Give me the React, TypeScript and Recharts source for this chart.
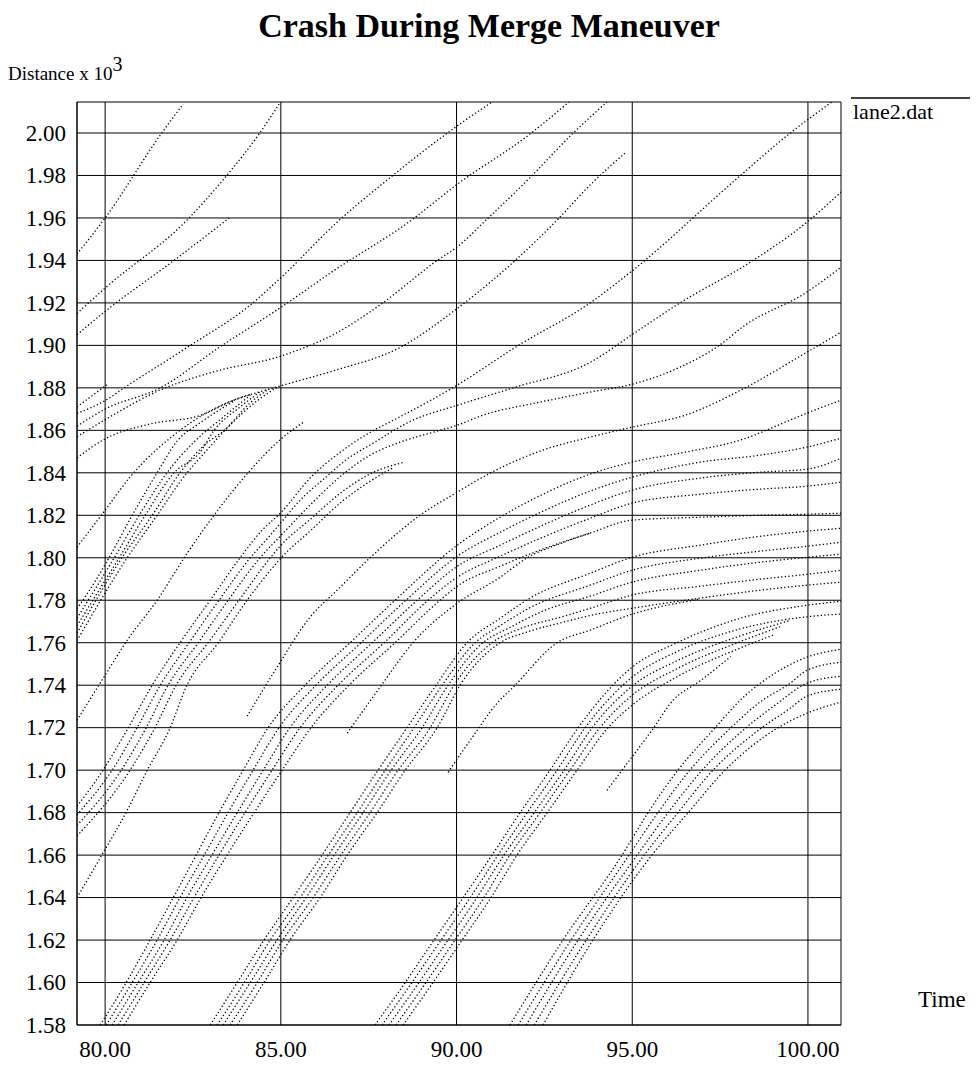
import React from 'react';
import { LineChart, Line, XAxis, YAxis, CartesianGrid } from 'recharts';

type Track = [number, number][];

// [time, distance x 10^3] pairs
const upperTracks: Track[] = [
  [[79.2, 1.943], [80.0, 1.96], [81.59, 1.9995], [82.22, 2.0136]],
  [[79.2, 1.915], [80.0, 1.927], [82.33, 1.959], [83.41, 1.979], [84.38, 1.9995], [84.95, 2.0136]],
  [[79.2, 1.905], [80.0, 1.916], [81.96, 1.94], [83.53, 1.96]],
  [[79.2, 1.871], [80.09, 1.882]],
  [[79.2, 1.868], [80.0, 1.874], [80.54, 1.88], [82.33, 1.899], [84.13, 1.919], [85.01, 1.932], [86.6, 1.958], [88.11, 1.979], [89.99, 2.003], [91.01, 2.0146]],
  [[79.2, 1.862], [80.0, 1.87], [81.57, 1.88], [83.24, 1.899], [85.01, 1.918], [86.4, 1.934], [88.76, 1.9595], [89.99, 1.9755], [92.09, 1.9995], [93.2, 2.0146]],
  [[79.2, 1.857], [80.0, 1.865], [81.57, 1.879], [83.19, 1.888], [85.01, 1.895], [86.6, 1.906], [87.82, 1.919], [89.45, 1.94], [89.99, 1.946], [90.87, 1.9595], [92.09, 1.979], [93.29, 1.9995], [94.28, 2.0146]],
  [[79.2, 1.847], [80.0, 1.856], [81.28, 1.863], [82.7, 1.867], [83.64, 1.874], [85.01, 1.881], [86.49, 1.888], [88.39, 1.899], [89.99, 1.917], [91.67, 1.94], [92.89, 1.9595], [93.8, 1.9755], [94.79, 1.9905]],
];

const platoonA: Track[] = [
  [[79.2, 1.776], [79.72, 1.789], [80.11, 1.8], [80.77, 1.82], [81.48, 1.84], [82.05, 1.855], [82.7, 1.8635], [83.64, 1.8735]],
  [[79.2, 1.7715], [80.26, 1.8], [80.97, 1.82], [81.76, 1.84], [82.56, 1.855], [83.27, 1.865], [84.13, 1.8765]],
  [[79.2, 1.768], [80.4, 1.8], [81.14, 1.82], [81.96, 1.84], [82.7, 1.8497], [83.1, 1.86], [83.84, 1.871], [84.4, 1.878]],
  [[79.2, 1.7645], [80.48, 1.8], [81.34, 1.82], [82.13, 1.84], [82.82, 1.853], [83.39, 1.86], [84.13, 1.873], [84.62, 1.879]],
  [[79.2, 1.761], [80.63, 1.8], [81.48, 1.82], [82.33, 1.84], [82.7, 1.847], [83.41, 1.86], [84.33, 1.874], [84.92, 1.8805]],
];

const platoonB: Track[] = [
  [[79.2, 1.683], [79.94, 1.7], [80.66, 1.72], [81.34, 1.74], [82.13, 1.76], [82.99, 1.78], [83.84, 1.8], [84.47, 1.813], [85.01, 1.8214], [85.83, 1.8375], [86.69, 1.8497], [87.54, 1.859], [88.31, 1.8657], [89.25, 1.874], [89.99, 1.881], [91.72, 1.8996], [93.8, 1.92], [94.99, 1.935], [98.01, 1.979], [99.46, 1.9995], [100.68, 2.0146]],
  [[79.2, 1.679], [80.2, 1.7], [80.91, 1.72], [81.57, 1.74], [82.39, 1.76], [83.24, 1.78], [84.13, 1.8], [84.7, 1.8106], [85.01, 1.8167], [85.55, 1.8271], [86.35, 1.8389], [86.77, 1.845], [87.63, 1.854], [88.76, 1.8648], [90.02, 1.8718], [91.61, 1.88], [93.8, 1.892], [94.99, 1.905], [96.3, 1.9194], [98.41, 1.9397], [99.97, 1.958], [100.94, 1.9722]],
  [[79.2, 1.674], [80.46, 1.7], [81.17, 1.72], [81.79, 1.74], [82.65, 1.76], [83.5, 1.78], [84.41, 1.8], [85.01, 1.8106], [85.83, 1.8248], [86.74, 1.8389], [87.54, 1.8483], [88.39, 1.8544], [89.33, 1.8591], [90.02, 1.8624], [90.75, 1.8671], [92.38, 1.8733], [93.8, 1.878], [94.99, 1.8817], [96.3, 1.8893], [97.44, 1.8996], [98.21, 1.9095], [99.97, 1.9251], [100.94, 1.9368]],
  [[79.2, 1.669], [80.71, 1.7], [81.42, 1.72], [82.02, 1.74], [82.93, 1.76], [83.81, 1.78], [84.7, 1.8], [85.01, 1.806], [85.83, 1.818], [86.74, 1.831], [87.54, 1.8395], [88.51, 1.845]],
  [[79.2, 1.64], [79.92, 1.6604], [80.63, 1.6811], [81.2, 1.7], [81.82, 1.7188], [82.33, 1.74], [83.22, 1.76], [84.04, 1.78], [84.7, 1.794], [85.01, 1.8], [85.83, 1.8125], [86.74, 1.8265], [87.54, 1.836], [88.2, 1.8425]],
];

const platoon1: Track[] = [
  [[79.86, 1.58], [80.6, 1.6], [81.28, 1.62], [81.94, 1.64], [82.59, 1.66], [83.24, 1.68], [83.93, 1.7], [84.64, 1.72], [85.69, 1.74], [86.97, 1.76], [88.25, 1.78], [90.02, 1.8059], [91.24, 1.8191], [92.52, 1.8304], [93.8, 1.8394], [94.99, 1.845], [96.5, 1.8497], [98.07, 1.8554], [99.49, 1.8648], [99.97, 1.8681], [100.94, 1.8742]],
  [[80.03, 1.58], [80.77, 1.6], [81.48, 1.62], [82.13, 1.64], [82.82, 1.66], [83.5, 1.68], [84.21, 1.7], [84.95, 1.72], [86.0, 1.74], [87.28, 1.76], [88.56, 1.78], [90.02, 1.8007], [91.24, 1.812], [92.52, 1.8224], [93.8, 1.8314], [94.99, 1.8379], [96.93, 1.845], [98.63, 1.8483], [99.97, 1.8521], [100.94, 1.8563]],
  [[80.2, 1.58], [80.94, 1.6], [81.68, 1.62], [82.33, 1.64], [83.04, 1.66], [83.76, 1.68], [84.5, 1.7], [85.26, 1.72], [86.32, 1.74], [87.6, 1.76], [88.88, 1.78], [90.02, 1.796], [91.24, 1.8059], [92.52, 1.8158], [93.8, 1.8248], [94.99, 1.8318], [96.93, 1.8375], [98.63, 1.8403], [99.97, 1.8417], [100.94, 1.8469]],
  [[80.37, 1.58], [81.11, 1.6], [81.85, 1.62], [82.53, 1.64], [83.24, 1.66], [83.98, 1.68], [84.75, 1.7], [85.55, 1.72], [86.63, 1.74], [87.94, 1.76], [89.19, 1.78], [90.02, 1.7908], [91.24, 1.8007], [92.52, 1.8101], [93.8, 1.8186], [94.99, 1.8257], [96.93, 1.8299], [98.63, 1.8323], [99.97, 1.8337], [100.94, 1.8356]],
  [[80.54, 1.58], [81.28, 1.6], [82.05, 1.62], [82.73, 1.64], [83.47, 1.66], [84.24, 1.68], [85.04, 1.7], [85.86, 1.72], [86.94, 1.74], [88.25, 1.76], [89.53, 1.78], [90.02, 1.7866], [91.24, 1.796], [92.52, 1.8045], [93.8, 1.8116], [94.99, 1.8177], [96.93, 1.8191], [98.63, 1.82], [99.97, 1.8205], [100.94, 1.821]],
];

const platoon2: Track[] = [
  [[82.99, 1.58], [83.76, 1.6], [84.52, 1.62], [85.35, 1.64], [86.17, 1.66], [86.97, 1.68], [87.77, 1.7], [88.59, 1.72], [89.42, 1.74], [90.3, 1.76], [91.24, 1.7715], [92.09, 1.781], [93.8, 1.7927], [94.99, 1.8002], [96.93, 1.8059], [98.63, 1.8101], [99.97, 1.8125], [100.94, 1.8139]],
  [[83.19, 1.58], [83.96, 1.6], [84.7, 1.62], [85.55, 1.64], [86.35, 1.66], [87.17, 1.68], [87.97, 1.7], [88.79, 1.72], [89.59, 1.74], [90.53, 1.76], [91.24, 1.768], [92.09, 1.7765], [93.8, 1.7871], [94.99, 1.7941], [96.93, 1.7998], [98.63, 1.8031], [99.97, 1.8054], [100.94, 1.8073]],
  [[83.36, 1.58], [84.13, 1.6], [84.89, 1.62], [85.72, 1.64], [86.52, 1.66], [87.34, 1.68], [88.14, 1.7], [89.02, 1.72], [89.76, 1.74], [90.75, 1.76], [91.5, 1.767], [92.52, 1.7753], [93.8, 1.7819], [94.99, 1.7885], [96.93, 1.7941], [98.63, 1.7979], [99.97, 1.8002], [100.94, 1.8017]],
  [[83.56, 1.58], [84.33, 1.6], [85.06, 1.62], [85.92, 1.64], [86.71, 1.66], [87.54, 1.68], [88.34, 1.7], [89.25, 1.72], [89.93, 1.74], [91.01, 1.76], [91.8, 1.7665], [93.0, 1.7722], [93.8, 1.7762], [94.99, 1.7824], [96.93, 1.7866], [98.63, 1.7899], [99.97, 1.7922], [100.94, 1.7941]],
  [[83.76, 1.58], [84.52, 1.6], [85.26, 1.62], [86.12, 1.64], [86.89, 1.66], [87.74, 1.68], [88.54, 1.7], [89.45, 1.72], [90.1, 1.74], [91.24, 1.76], [92.0, 1.765], [93.0, 1.7695], [94.0, 1.7735], [94.99, 1.7762], [96.93, 1.781], [98.63, 1.7847], [99.97, 1.7871], [100.94, 1.7885]],
];

const platoon3: Track[] = [
  [[87.68, 1.58], [88.54, 1.6], [89.36, 1.62], [90.19, 1.64], [91.01, 1.66], [91.81, 1.68], [92.66, 1.7], [93.46, 1.72], [94.99, 1.7484], [96.3, 1.7602], [98.07, 1.7715], [99.97, 1.7776], [100.94, 1.7795]],
  [[87.88, 1.58], [88.73, 1.6], [89.56, 1.62], [90.39, 1.64], [91.18, 1.66], [92.01, 1.68], [92.86, 1.7], [93.66, 1.72], [94.99, 1.7437], [96.3, 1.756], [98.07, 1.7665], [99.97, 1.7722], [100.94, 1.7735]],
  [[88.08, 1.58], [88.93, 1.6], [89.76, 1.62], [90.58, 1.64], [91.35, 1.66], [92.21, 1.68], [93.06, 1.7], [93.86, 1.72], [94.99, 1.7395], [96.3, 1.7517], [98.07, 1.7632], [99.5, 1.7705]],
  [[88.28, 1.58], [89.13, 1.6], [89.96, 1.62], [90.78, 1.64], [91.52, 1.66], [92.38, 1.68], [93.23, 1.7], [94.08, 1.72], [94.99, 1.7352], [96.3, 1.748], [98.07, 1.7605], [99.2, 1.7675]],
  [[88.48, 1.58], [89.33, 1.6], [90.16, 1.62], [90.98, 1.64], [91.72, 1.66], [92.58, 1.68], [93.43, 1.7], [94.31, 1.72], [94.99, 1.7305], [96.3, 1.7442], [98.07, 1.7575], [99.0, 1.7635]],
];

const platoon4: Track[] = [
  [[91.52, 1.58], [93.03, 1.62], [94.71, 1.66], [95.45, 1.68], [96.3, 1.7], [97.36, 1.72], [98.07, 1.7329], [99.06, 1.7456], [99.97, 1.7532], [100.94, 1.7569]],
  [[91.75, 1.58], [93.26, 1.62], [94.91, 1.66], [95.73, 1.68], [96.64, 1.7], [97.81, 1.72], [98.63, 1.732], [99.49, 1.7409], [99.97, 1.747], [100.94, 1.7508]],
  [[91.98, 1.58], [93.46, 1.62], [95.14, 1.66], [96.02, 1.68], [96.99, 1.7], [98.24, 1.72], [99.06, 1.7305], [99.97, 1.7409], [100.94, 1.7442]],
  [[92.21, 1.58], [93.69, 1.62], [95.34, 1.66], [96.3, 1.68], [97.3, 1.7], [98.69, 1.72], [99.49, 1.7291], [99.97, 1.7348], [100.94, 1.7381]],
  [[92.46, 1.58], [93.88, 1.62], [95.56, 1.66], [96.59, 1.68], [97.64, 1.7], [99.15, 1.72], [99.97, 1.7268], [100.94, 1.732]],
];

// single vehicles that appear mid-plot
const loners: Track[] = [
  [[79.2, 1.805], [80.0, 1.8224], [80.71, 1.838], [82.05, 1.859], [83.47, 1.873], [84.13, 1.877]],
  [[79.2, 1.7235], [80.0, 1.7447], [80.63, 1.7612], [81.48, 1.78], [82.33, 1.802], [83.1, 1.82], [84.13, 1.8412], [85.01, 1.856], [85.66, 1.864]],
  [[84.04, 1.7254], [84.89, 1.7484], [85.83, 1.772], [86.6, 1.7847], [87.54, 1.8], [88.96, 1.82], [90.02, 1.8309], [90.95, 1.8398], [92.46, 1.8507], [93.8, 1.8568], [94.99, 1.8615], [96.5, 1.8671], [98.21, 1.88], [99.97, 1.8968], [100.94, 1.9062]],
  [[86.89, 1.7174], [87.82, 1.739], [88.76, 1.76], [90.02, 1.7786], [91.24, 1.7908], [92.01, 1.8], [93.0, 1.807], [93.8, 1.8116]],
  [[89.76, 1.699], [90.39, 1.7141], [91.18, 1.732], [91.61, 1.739], [92.86, 1.76], [93.8, 1.7659], [94.99, 1.7734], [96.93, 1.7805]],
  [[94.28, 1.6905], [94.71, 1.7], [95.56, 1.7188], [96.16, 1.7329], [96.93, 1.742], [97.8, 1.7535]],
];

const xTicks = [80, 85, 90, 95, 100];
const yTicks = [1.58, 1.6, 1.62, 1.64, 1.66, 1.68, 1.7, 1.72, 1.74, 1.76, 1.78, 1.8, 1.82, 1.84, 1.86, 1.88, 1.9, 1.92, 1.94, 1.96, 1.98, 2.0];

const allTracks = [...upperTracks, ...platoonA, ...platoonB, ...platoon1, ...platoon2, ...platoon3, ...platoon4, ...loners];

const serif = '"Liberation Serif", "Times New Roman", serif';

const XTick = (props: any) => (
  <text x={props.x} y={props.y + 17} textAnchor="middle" fontFamily={serif} fontSize={23} fill="#000">
    {Number(props.payload.value).toFixed(2)}
  </text>
);

const YTick = (props: any) => (
  <text x={props.x} y={props.y} dy="0.34em" textAnchor="end" fontFamily={serif} fontSize={23} fill="#000">
    {Number(props.payload.value).toFixed(2)}
  </text>
);

export default function App() {
  return (
    <div style={{ position: 'relative', width: 963, height: 1053, fontFamily: serif }}>
      <LineChart width={963} height={1053} margin={{ top: 94, right: 130, left: 9, bottom: 6 }}>
        <CartesianGrid stroke="#000" strokeWidth={1} />
        <XAxis
          type="number"
          dataKey="t"
          domain={[79.2, 100.94]}
          ticks={xTicks}
          interval={0}
          allowDataOverflow
          height={30}
          tickLine={false}
          tickSize={0}
          tickMargin={15}
          axisLine={{ stroke: '#000' }}
          tick={<XTick />}
        />
        <YAxis
          type="number"
          domain={[1.58, 2.0146]}
          ticks={yTicks}
          interval={0}
          allowDataOverflow
          width={60}
          tickLine={false}
          tickSize={0}
          tickMargin={11}
          axisLine={{ stroke: '#000' }}
          tick={<YTick />}
        />
        {allTracks.map((tr, i) => (
          <Line
            key={i}
            data={tr.map(([t, d]) => ({ t, d }))}
            dataKey="d"
            type="monotone"
            stroke="#000"
            strokeWidth={1.3}
            strokeDasharray="1.3 2.3"
            dot={false}
            activeDot={false}
            legendType="none"
            isAnimationActive={false}
          />
        ))}
      </LineChart>
      <svg
        width={963}
        height={1053}
        style={{ position: 'absolute', left: 0, top: 0, pointerEvents: 'none' }}
      >
        <text x={481} y={29} textAnchor="middle" fontFamily={serif} fontWeight="bold" fontSize={34}>
          Crash During Merge Maneuver
        </text>
        <text x={0} y={72} fontFamily={serif} fontSize={19}>
          Distance x 10
          <tspan dy={-9} fontSize={20}>3</tspan>
        </text>
        <line x1={843} x2={962} y1={90} y2={90} stroke="#000" strokeWidth={1.5} />
        <text x={845} y={111} fontFamily={serif} fontSize={22}>
          lane2.dat
        </text>
        <text x={910} y={999} fontFamily={serif} fontSize={23}>
          Time
        </text>
      </svg>
    </div>
  );
}
